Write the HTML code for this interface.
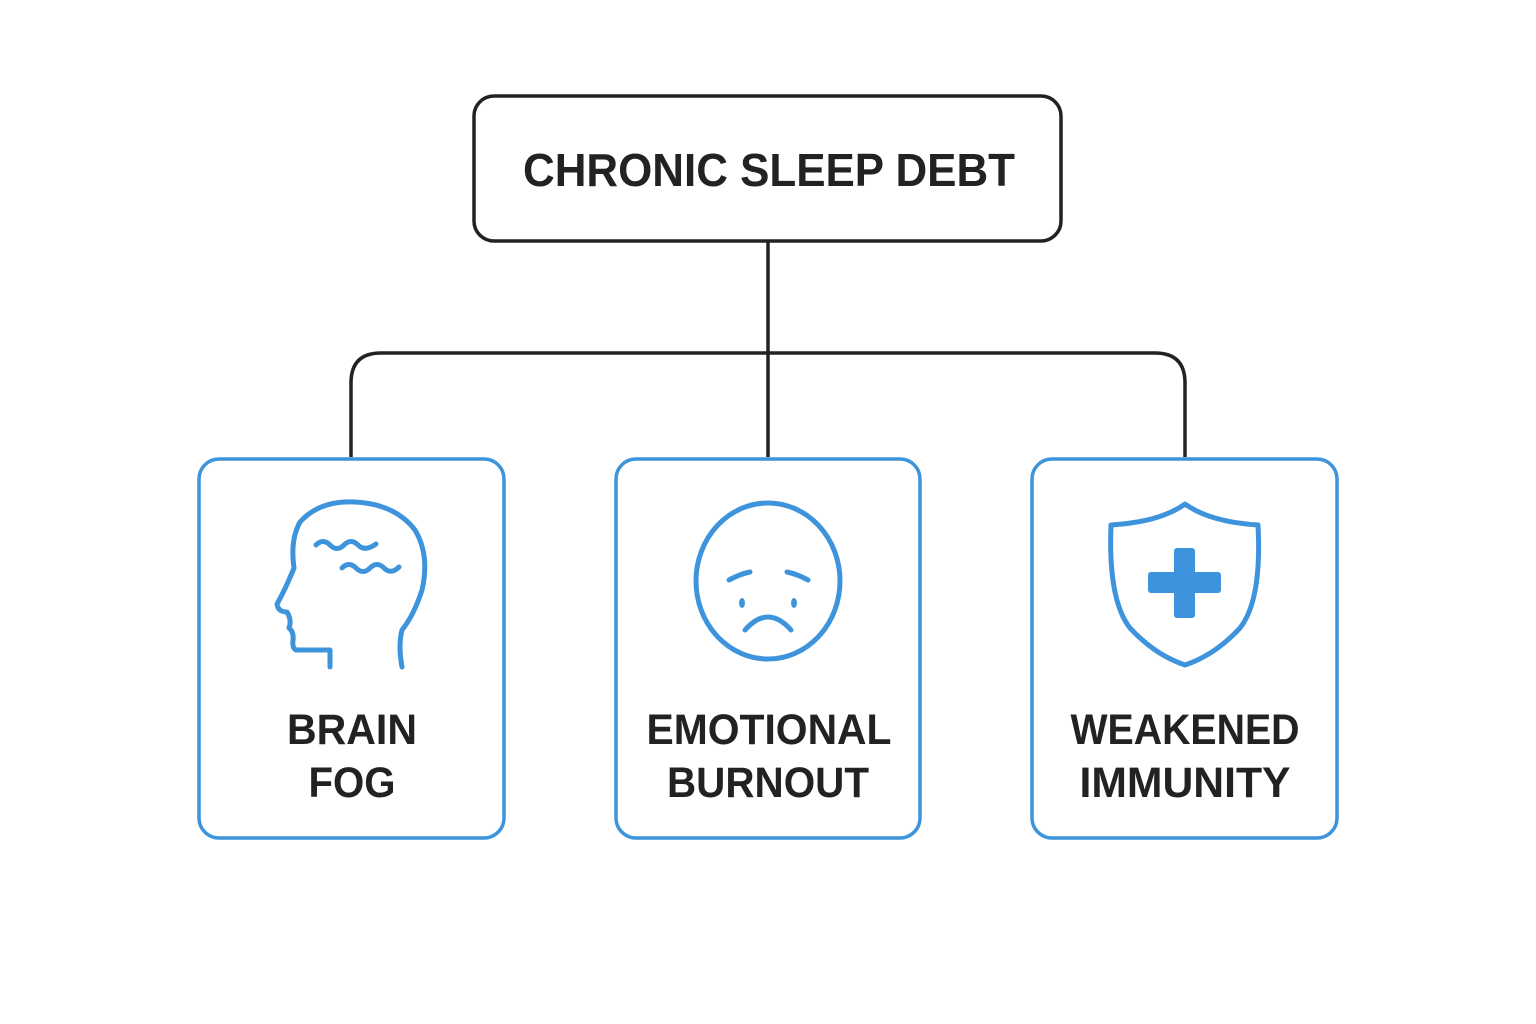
<!DOCTYPE html>
<html><head><meta charset="utf-8"><style>
html,body{margin:0;padding:0;background:#fff;}
svg{display:block;}
text{font-family:"Liberation Sans",Arial,sans-serif;font-weight:bold;fill:#222;}
</style></head><body>
<svg width="1536" height="1024" viewBox="0 0 1536 1024" xmlns="http://www.w3.org/2000/svg">
<rect x="0" y="0" width="1536" height="1024" fill="#fff"/>
<!-- connectors -->
<g fill="none" stroke="#222" stroke-width="3.5">
<line x1="768" y1="241" x2="768" y2="457"/>
<path d="M351 457 V383 Q351 353 381 353 H1155 Q1185 353 1185 383 V457"/>
</g>
<!-- top box -->
<rect x="474" y="96" width="587" height="145" rx="20" fill="#fff" stroke="#222" stroke-width="3.5"/>
<text x="769" y="186" font-size="46" text-anchor="middle" textLength="492" lengthAdjust="spacingAndGlyphs">CHRONIC SLEEP DEBT</text>
<!-- child boxes -->
<g fill="#fff" stroke="#3d94dc" stroke-width="3.5">
<rect x="199" y="459" width="305" height="379" rx="20"/>
<rect x="616" y="459" width="304" height="379" rx="20"/>
<rect x="1032" y="459" width="305" height="379" rx="20"/>
</g>
<!-- icons -->
<g fill="none" stroke="#3d94dc" stroke-width="5" stroke-linecap="round" stroke-linejoin="round">
<!-- head -->
<path d="M330 667 V650 H296 Q292 648 293 640 Q294 632 289 628 Q292 620 287 612 Q278 612 277 604 Q285 590 294 568 Q290 540 300 522 Q320 500 355 502 Q395 504 415 530 Q430 555 422 590 Q414 615 402 630 Q398 645 402 667"/>
<path d="M316 545 Q323 538 330 545 Q337 552 344 545 Q351 538 358 545 Q365 552 376 544"/>
<path d="M342 568 Q349 561 356 568 Q363 575 370 568 Q377 561 384 568 Q391 575 399 567"/>
<!-- face -->
<ellipse cx="768" cy="581" rx="72" ry="78"/>
<path d="M729 580 Q740 574 750 572"/>
<path d="M787 572 Q797 574 808 580"/>
<path d="M745 630 Q768 604 791 630"/>
<!-- shield -->
<path d="M1185 504 Q1160 522 1111 525 Q1108 600 1130 628 Q1155 655 1185 665 Q1215 655 1240 628 Q1262 600 1258 525 Q1210 522 1185 504 Z"/>
</g>
<g fill="#3d94dc">
<ellipse cx="742" cy="603" rx="3" ry="5"/>
<ellipse cx="794" cy="603" rx="3" ry="5"/>
<rect x="1174" y="548" width="21" height="70" rx="3"/>
<rect x="1148" y="572" width="73" height="21" rx="3"/>
</g>
<!-- labels -->
<text x="352" y="744" font-size="43" text-anchor="middle" textLength="130" lengthAdjust="spacingAndGlyphs">BRAIN</text>
<text x="352" y="797" font-size="43" text-anchor="middle" textLength="87" lengthAdjust="spacingAndGlyphs">FOG</text>
<text x="769" y="744" font-size="43" text-anchor="middle" textLength="245" lengthAdjust="spacingAndGlyphs">EMOTIONAL</text>
<text x="768" y="797" font-size="43" text-anchor="middle" textLength="202" lengthAdjust="spacingAndGlyphs">BURNOUT</text>
<text x="1185" y="744" font-size="43" text-anchor="middle" textLength="229" lengthAdjust="spacingAndGlyphs">WEAKENED</text>
<text x="1185" y="797" font-size="43" text-anchor="middle" textLength="211" lengthAdjust="spacingAndGlyphs">IMMUNITY</text>
</svg>
</body></html>
